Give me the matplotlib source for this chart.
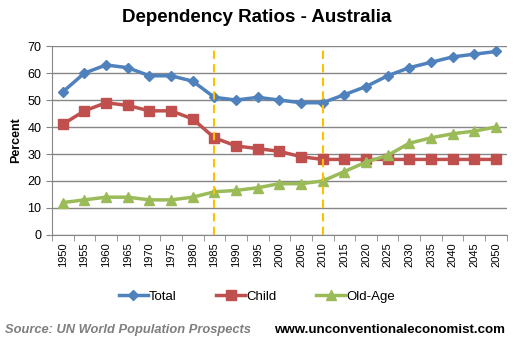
import numpy as np
import matplotlib
matplotlib.use("Agg")
import matplotlib.pyplot as plt

# Data
years = [1950, 1955, 1960, 1965, 1970, 1975, 1980, 1985, 1990, 1995, 2000,
         2005, 2010, 2015, 2020, 2025, 2030, 2035, 2040, 2045, 2050]
total = [53, 60, 63, 62, 59, 59, 57, 51, 50, 51, 50,
         49, 49, 52, 55, 59, 62, 64, 66, 67, 68]
child = [41, 46, 49, 48, 46, 46, 43, 36, 33, 32, 31,
         29, 28, 28, 28, 28, 28, 28, 28, 28, 28]
old_age = [12, 13, 14, 14, 13, 13, 14, 16, 16.5, 17.5, 19,
           19, 20, 23.5, 27, 29.5, 34, 36, 37.5, 38.5, 40]
marked_years = [1985, 2010]

plt.rcParams['font.family'] = ['Liberation Sans', 'DejaVu Sans']

fig = plt.figure(figsize=(5.14, 3.44), dpi=100)
ax = fig.add_axes([0.101, 0.317, 0.885, 0.549])

x = np.arange(len(years))
ax.plot(x, total, color="#4F81BD", lw=2.5, marker="D", ms=5.5, label="Total")
ax.plot(x, child, color="#C0504D", lw=2.5, marker="s", ms=6.5, label="Child")
ax.plot(x, old_age, color="#9BBB59", lw=2.5, marker="^", ms=7, label="Old-Age")

for yr in marked_years:
    ax.axvline(years.index(yr), color="#FFC000", lw=1.5, ls=(0, (4, 2.5)), zorder=3)

ax.set_xlim(-0.5, len(years) - 0.5)
ax.set_ylim(0, 70)
ax.set_yticks(range(0, 71, 10))
ax.yaxis.grid(True, color="#868686", lw=1)
ax.set_axisbelow(True)

ax.set_xticks(x)
ax.set_xticklabels([str(y) for y in years], rotation=90, fontsize=8)
ax.set_xticks(np.arange(-0.5, len(years)), minor=True)
ax.tick_params(axis="x", which="major", length=0, pad=5)
ax.tick_params(axis="x", which="minor", length=4, color="#868686")
ax.tick_params(axis="y", length=4, color="#868686", labelsize=9)

for s in ["top", "right"]:
    ax.spines[s].set_visible(False)
for s in ["left", "bottom"]:
    ax.spines[s].set_color("#868686")

ax.set_ylabel("Percent", fontsize=9, fontweight="bold", labelpad=4)
fig.text(0.5, 0.95, "Dependency Ratios - Australia", ha="center", va="center",
         fontsize=13.5, fontweight="bold")

fig.legend(loc="center", bbox_to_anchor=(0.5, 0.137), ncol=3, frameon=False,
           fontsize=9.5, handlelength=2.2, columnspacing=3.0, handletextpad=0.1)

fig.text(0.01, 0.04, "Source: UN World Population Prospects", fontsize=9.3,
         fontstyle="italic", fontweight="bold", color="#7F7F7F", va="center")
fig.text(0.983, 0.04, "www.unconventionaleconomist.com", fontsize=9.6,
         fontweight="bold", ha="right", va="center")

fig.savefig("out.png", dpi=100)
